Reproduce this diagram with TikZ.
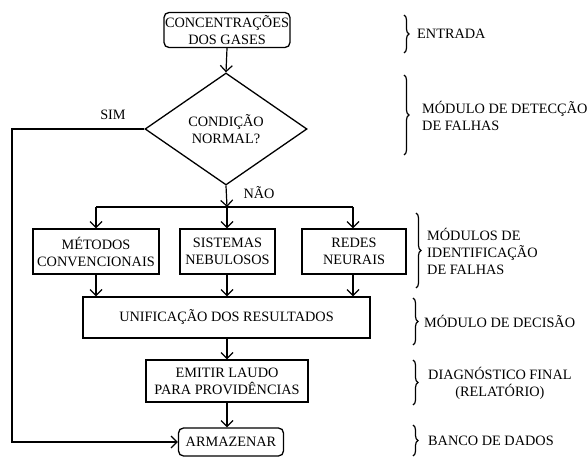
\documentclass[tikz,border=0pt]{standalone}
\usepackage{fontspec}
\setmainfont{Liberation Serif}
\usetikzlibrary{shapes.geometric,arrows.meta,decorations.pathreplacing}
\begin{document}
\begin{tikzpicture}[x=1pt,y=-1pt,
  every node/.style={font=\fontsize{14.3}{17}\selectfont, align=center, inner sep=0pt},
  rbox/.style={draw, line width=1.3pt, rounded corners=5pt},
  sbox/.style={draw, line width=1.3pt},
  arr/.style={line width=1.2pt, -{Straight Barb[length=6pt,width=12pt,line width=1.2pt]}},
  ln/.style={line width=1.2pt},
  brc/.style={line width=1.2pt, decorate, decoration={brace, amplitude=5pt}},
  side/.style={anchor=west, align=left}]
\useasboundingbox (0,0) rectangle (587,457);
\fill[white] (0,0) rectangle (587,457);

% main flow
\node[rbox, minimum width=126pt, minimum height=35pt] (conc) at (227,30) {CONCENTRAÇÕES\\DOS GASES};
\node[diamond, draw, line width=1.3pt, minimum width=162pt, minimum height=112pt, aspect=1.45] (dia) at (226,129) {CONDIÇÃO\\NORMAL?};
\coordinate (jn) at (227,207);
\coordinate (jl) at (96,207);
\coordinate (jr) at (353,207);
\node[sbox, minimum width=126pt, minimum height=45pt] (met) at (96,251.5) {MÉTODOS\\CONVENCIONAIS};
\node[sbox, minimum width=95pt, minimum height=45pt] (sis) at (227.5,251.5) {SISTEMAS\\NEBULOSOS};
\node[sbox, minimum width=104pt, minimum height=45pt] (red) at (354,251.5) {REDES\\NEURAIS};
\node[sbox, minimum width=287pt, minimum height=41pt] (uni) at (226.5,317.5) {UNIFICAÇÃO DOS RESULTADOS};
\node[sbox, minimum width=162pt, minimum height=42pt] (emi) at (227,381) {EMITIR LAUDO\\PARA PROVIDÊNCIAS};
\node[rbox, minimum width=105pt, minimum height=28pt] (arm) at (231,442) {ARMAZENAR};
\coordinate (c1) at (12,129);
\coordinate (c2) at (12,442);

\node (sim) at (113,115) {SIM};
\node (nao) at (259,193) {NÃO};

\draw[arr] (conc.south) -- (dia.north);
\draw[arr] (dia.south) -- (jn);
\draw[ln] (jl) -- (jr);
\draw[arr] (jl) -- (jl |- met.north);
\draw[arr] (jn) -- (jn |- sis.north);
\draw[arr] (jr) -- (jr |- red.north);
\draw[arr] (met.south -| jl) -- (jl |- uni.north);
\draw[arr] (sis.south -| jn) -- (jn |- uni.north);
\draw[arr] (red.south -| jr) -- (jr |- uni.north);
\draw[arr] (uni.south -| emi.south) -- (emi.north);
\draw[arr] (emi.south) -- (emi.south |- arm.north);
\draw[arr] (dia.west) -- (c1) -- (c2) -- (arm.west);

% braces and side labels
\coordinate (b1a) at (404,15); \coordinate (b1b) at (404,53);
\coordinate (b2a) at (404,75); \coordinate (b2b) at (404,155);
\coordinate (b3a) at (416,213); \coordinate (b3b) at (416,288);
\coordinate (b4a) at (413,298); \coordinate (b4b) at (413,345);
\coordinate (b5a) at (413,360); \coordinate (b5b) at (413,405);
\coordinate (b6a) at (413,425); \coordinate (b6b) at (413,456);
\draw[brc] (b1a) -- (b1b);
\draw[brc] (b2a) -- (b2b);
\draw[brc] (b3a) -- (b3b);
\draw[brc] (b4a) -- (b4b);
\draw[brc] (b5a) -- (b5b);
\draw[brc] (b6a) -- (b6b);
\node[side] (t1) at (417,34) {ENTRADA};
\node[side] (t2) at (422,116) {MÓDULO DE DETECÇÃO\\DE FALHAS};
\node[side] (t3) at (427,251) {MÓDULOS DE\\IDENTIFICAÇÃO\\DE FALHAS};
\node[side] (t4) at (424,321) {MÓDULO DE DECISÃO};
\node[side, align=center] (t5) at (428,383) {DIAGNÓSTICO FINAL\\(RELATÓRIO)};
\node[side] (t6) at (428,441) {BANCO DE DADOS};
\end{tikzpicture}
\end{document}
